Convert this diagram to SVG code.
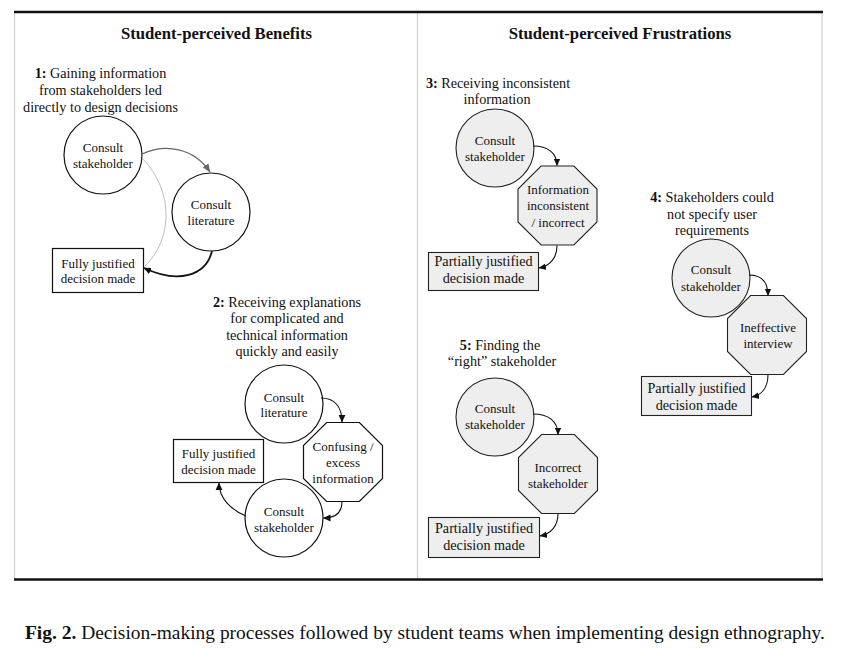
<svg xmlns="http://www.w3.org/2000/svg" xmlns:xlink="http://www.w3.org/1999/xlink" width="841" height="653" viewBox="0 0 841 653">
<style>
text{font-family:"Liberation Serif","Times New Roman",serif;fill:#111;text-anchor:middle}
.title{font-size:16.7px;font-weight:bold}
.lbl{font-size:14.2px}
.n{font-size:13px}
.nb{font-size:14.2px}
.w{fill:#fff;stroke:#111;stroke-width:1.2}
.g{fill:#eeeeee;stroke:#222;stroke-width:1.1}
.c{fill:none;stroke:#111;stroke-width:1.1}
.frame{stroke:#cfcfcf;stroke-width:1.2;fill:none}
.thick{stroke:#111;stroke-width:2.6}
</style>
<defs>
<marker id="ah" markerWidth="8" markerHeight="8" refX="7" refY="4" orient="auto" markerUnits="userSpaceOnUse">
<path d="M0,0.6 L7.5,4 L0,7.4 Z" fill="#111"/>
</marker>
<marker id="ahg" markerWidth="9" markerHeight="9" refX="8" refY="4.5" orient="auto" markerUnits="userSpaceOnUse">
<path d="M0,1 L8.5,4.5 L0,8 Z" fill="#666"/>
</marker>
<polygon id="oct" points="-16.4,-39.5 16.4,-39.5 39.5,-16.4 39.5,16.4 16.4,39.5 -16.4,39.5 -39.5,16.4 -39.5,-16.4"/>
</defs>
<rect width="841" height="653" fill="#fff"/>
<g id="frame">
<line class="frame" x1="14.5" y1="12" x2="14.5" y2="579"/>
<line class="frame" x1="417.5" y1="12" x2="417.5" y2="579"/>
<line class="frame" x1="822" y1="12" x2="822" y2="579"/>
<line class="thick" x1="14" y1="12" x2="823" y2="12"/>
<line class="thick" x1="14" y1="579.5" x2="823" y2="579.5"/>
</g>
<g id="titles">
<text class="title" x="216.5" y="39">Student-perceived Benefits</text>
<text class="title" x="620" y="39">Student-perceived Frustrations</text>
</g>
<g id="labels">
<text class="lbl" y="78"><tspan x="100.5"><tspan font-weight="bold">1:</tspan> Gaining information</tspan><tspan x="100.5" y="95">from stakeholders led</tspan><tspan x="100.5" y="111.5">directly to design decisions</tspan></text>
<text class="lbl" y="306.5"><tspan x="287"><tspan font-weight="bold">2:</tspan> Receiving explanations</tspan><tspan x="287" y="323">for complicated and</tspan><tspan x="287" y="339.5">technical information</tspan><tspan x="287" y="356">quickly and easily</tspan></text>
<text class="lbl" y="88"><tspan x="498"><tspan font-weight="bold">3:</tspan> Receiving inconsistent</tspan><tspan x="497" y="104">information</tspan></text>
<text class="lbl" y="202"><tspan x="712"><tspan font-weight="bold">4:</tspan> Stakeholders could</tspan><tspan x="712" y="218.5">not specify user</tspan><tspan x="712" y="235">requirements</tspan></text>
<text class="lbl" y="350"><tspan x="500"><tspan font-weight="bold">5:</tspan> Finding the</tspan><tspan x="502" y="366">“right” stakeholder</tspan></text>
</g>
<!-- Panel 1 -->
<g id="p1-stakeholder">
<circle class="w" cx="103" cy="155" r="39"/>
<text class="n" x="103" y="151.5">Consult</text>
<text class="n" x="103" y="167.5">stakeholder</text>
</g>
<g id="p1-literature">
<circle class="w" cx="211" cy="212" r="39"/>
<text class="n" x="211" y="208.5">Consult</text>
<text class="n" x="211" y="224.5">literature</text>
</g>
<g id="p1-decision">
<rect class="w" x="52.5" y="248.5" width="91" height="44"/>
<text class="n" x="98" y="268">Fully justified</text>
<text class="n" x="98" y="283">decision made</text>
</g>
<!-- Panel 2 -->
<g id="p2-literature">
<circle class="w" cx="284" cy="404" r="39"/>
<text class="n" x="284" y="401.5">Consult</text>
<text class="n" x="284" y="416.5">literature</text>
</g>
<g id="p2-confusing">
<use href="#oct" xlink:href="#oct" x="343" y="462" class="w"/>
<text class="n" x="343" y="450.5">Confusing /</text>
<text class="n" x="343" y="466.5">excess</text>
<text class="n" x="343" y="482.5">information</text>
</g>
<g id="p2-stakeholder">
<circle class="w" cx="284" cy="518" r="39"/>
<text class="n" x="284" y="515.5">Consult</text>
<text class="n" x="284" y="532">stakeholder</text>
</g>
<g id="p2-decision">
<rect class="w" x="173.5" y="439.5" width="90" height="43"/>
<text class="n" x="218.5" y="458">Fully justified</text>
<text class="n" x="218.5" y="474">decision made</text>
</g>
<!-- Panel 3 -->
<g id="p3-stakeholder">
<circle class="g" cx="495" cy="148" r="39"/>
<text class="n" x="495" y="144.5">Consult</text>
<text class="n" x="495" y="160.5">stakeholder</text>
</g>
<g id="p3-inconsistent">
<use href="#oct" xlink:href="#oct" x="557.5" y="205.5" class="g"/>
<text class="n" x="558" y="193.5">Information</text>
<text class="n" x="558" y="210">inconsistent</text>
<text class="n" x="558" y="226.5">/ incorrect</text>
</g>
<g id="p3-decision">
<rect class="g" x="428.5" y="252.5" width="110" height="38"/>
<text class="nb" x="483.5" y="266">Partially justified</text>
<text class="nb" x="483.5" y="282.5">decision made</text>
</g>
<!-- Panel 4 -->
<g id="p4-stakeholder">
<circle class="g" cx="711" cy="278" r="39"/>
<text class="n" x="711" y="274">Consult</text>
<text class="n" x="711" y="290.5">stakeholder</text>
</g>
<g id="p4-interview">
<use href="#oct" xlink:href="#oct" x="767" y="335" class="g"/>
<text class="n" x="768" y="331.5">Ineffective</text>
<text class="n" x="768" y="347.5">interview</text>
</g>
<g id="p4-decision">
<rect class="g" x="641.5" y="376.5" width="110" height="39"/>
<text class="nb" x="696.5" y="393">Partially justified</text>
<text class="nb" x="696.5" y="410">decision made</text>
</g>
<!-- Panel 5 -->
<g id="p5-stakeholder">
<circle class="g" cx="495" cy="417" r="39"/>
<text class="n" x="495" y="412.5">Consult</text>
<text class="n" x="495" y="428.5">stakeholder</text>
</g>
<g id="p5-incorrect">
<use href="#oct" xlink:href="#oct" x="558" y="474" class="g"/>
<text class="n" x="558" y="471.5">Incorrect</text>
<text class="n" x="558" y="487.5">stakeholder</text>
</g>
<g id="p5-decision">
<rect class="g" x="428.5" y="517.5" width="111" height="40"/>
<text class="nb" x="484" y="533">Partially justified</text>
<text class="nb" x="484" y="550">decision made</text>
</g>
<g id="connectors">
<path d="M142,154 C165,143 194,148 210,172" fill="none" stroke="#666" stroke-width="1.2" marker-end="url(#ahg)"/>
<path d="M142,158 C175,192 172,240 145,266" fill="none" stroke="#bdbdbd" stroke-width="1"/>
<path d="M212,251 C206,276 178,284 144,268" fill="none" stroke="#111" stroke-width="1.8" marker-end="url(#ah)"/>
<path class="c" d="M321,398 C334,398 342,406 342,422" marker-end="url(#ah)"/>
<path class="c" d="M342,501.5 C342,512 336,518 323.5,518" marker-end="url(#ah)"/>
<path class="c" d="M246,516 C231,510 219,498 219,483" marker-end="url(#ah)"/>
<path class="c" d="M533,146 C548,146 557,153 557,165.5" marker-end="url(#ah)"/>
<path class="c" d="M557,245.5 C557,258 550,266 539,268" marker-end="url(#ah)"/>
<path class="c" d="M749,275 C762,275 768,283 768,295.5" marker-end="url(#ah)"/>
<path class="c" d="M768,374.5 C768,387 762,395 752,397" marker-end="url(#ah)"/>
<path class="c" d="M533,414 C548,414 558,421 558,434.5" marker-end="url(#ah)"/>
<path class="c" d="M558,513.5 C558,526 551,534 540,536" marker-end="url(#ah)"/>
</g>
<g id="caption">
<text x="25" y="638.5" style="text-anchor:start;font-size:19.45px"><tspan font-weight="bold">Fig. 2.</tspan> Decision-making processes followed by student teams when implementing design ethnography.</text>
</g>
</svg>
